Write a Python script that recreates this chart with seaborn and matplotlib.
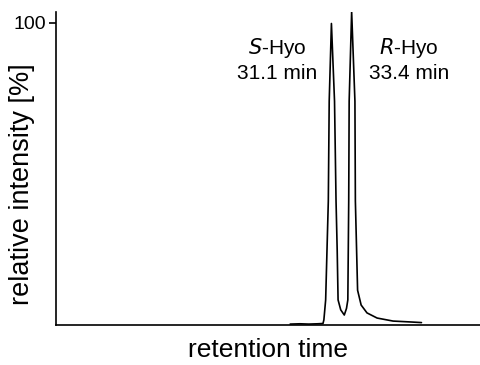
import matplotlib
matplotlib.use("Agg")
import matplotlib.pyplot as plt
import seaborn as sns
import pandas as pd

# Chromatogram trace: retention time (min) and relative intensity (%)
time_min = [26.4, 27.5, 28.5, 29.5, 30.1, 30.2, 30.4, 30.7, 30.8, 31.05,
            31.4, 31.57, 31.7, 31.8, 32.1, 32.5, 32.75, 32.9, 33.0, 33.05,
            33.33, 33.7, 33.75, 34.0, 34.4, 35.06, 36.2, 38.0, 40.0, 41.2]
intensity = [0.3, 0.4, 0.3, 0.4, 0.5, 1.7, 8.3, 41.0, 74.0, 99.7,
             74.0, 41.0, 24.8, 8.3, 5.0, 3.3, 5.5, 8.3, 41.0, 74.0,
             103.6, 74.0, 41.0, 11.5, 6.6, 4.0, 2.3, 1.3, 1.0, 0.8]

peak_names = ["S", "R"]
peak_times = [31.1, 33.4]

df = pd.DataFrame({"time": time_min, "intensity": intensity})

sns.set_style("ticks")
plt.rcParams["font.family"] = ["Liberation Sans", "DejaVu Sans"]
plt.rcParams["text.color"] = "black"
plt.rcParams["axes.labelcolor"] = "black"
plt.rcParams["ytick.color"] = "black"

fig = plt.figure(figsize=(4.81, 3.65), dpi=100)
ax = fig.add_axes([56 / 481, 40 / 365, 424 / 481, 313 / 365])

sns.lineplot(data=df, x="time", y="intensity", ax=ax, color="black",
             linewidth=1.2, sort=False)

ax.set_xlim(0, 47.8)
ax.set_ylim(0, 103.5)
ax.set_xticks([])
ax.set_yticks([100])
ax.set_yticklabels(["100"])
ax.tick_params(axis="y", length=5, width=1.2, labelsize=14, pad=2, color="black")
for side in ("left", "bottom"):
    ax.spines[side].set_linewidth(1.2)
    ax.spines[side].set_color("black")
sns.despine(ax=ax)

ax.set_xlabel("retention time", fontsize=19)
ax.xaxis.set_label_coords(0.5, -0.042)
ax.set_ylabel("relative intensity [%]", fontsize=19.5)
ax.yaxis.set_label_coords(-0.05, 0.449)

label_x = [24.9, 39.8]
for name, t, lx in zip(peak_names, peak_times, label_x):
    ax.text(lx, 91.5, f"$\\it{{{name}}}$-Hyo", ha="center", va="center", fontsize=15)
    ax.text(lx, 83.2, f"{t:.1f} min", ha="center", va="center", fontsize=15)

fig.savefig("out.png", dpi=100)
